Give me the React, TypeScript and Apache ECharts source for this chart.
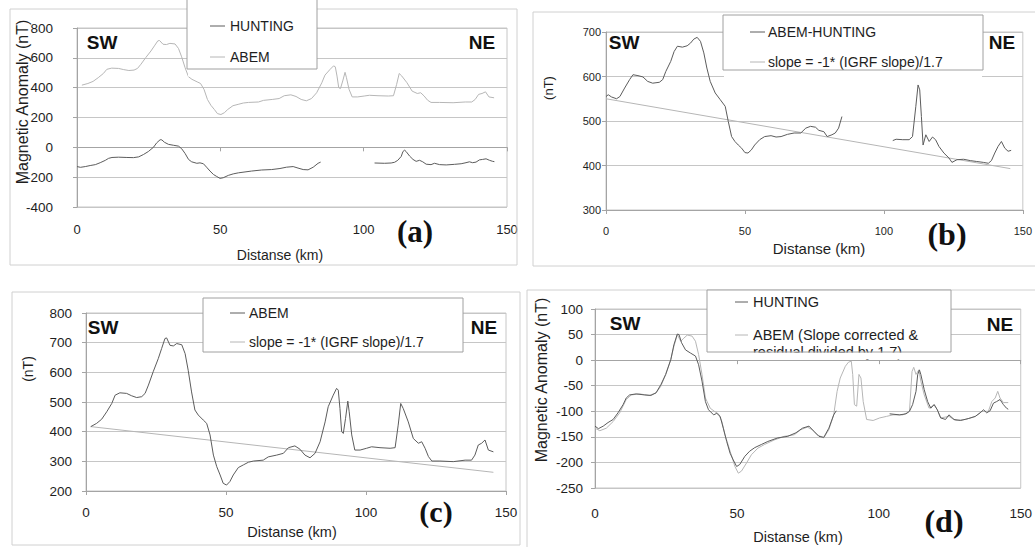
import React, { useEffect, useRef } from "react";
import * as echarts from "echarts";

// ---------- DATA (km, nT) ----------
const abem: [number, number][] = [
  [1.7, 417], [3.8, 428], [5.6, 442], [7.4, 467], [9.2, 495], [10.4, 523], [12.1, 531], [14.5, 529], [16.3, 521],
  [18.1, 515], [19.9, 518], [21.1, 529], [22.3, 557], [24, 602], [25.8, 646], [27, 680], [28.2, 714], [28.8, 716],
  [30, 691], [31.2, 689], [32.4, 697], [34.2, 693], [35.4, 663], [36.5, 607], [37.7, 534], [38.9, 473], [40.1, 456],
  [41.9, 439], [43.1, 428], [44.3, 389], [45.5, 321], [46.7, 282], [47.9, 254], [49, 226], [50.2, 220], [51.4, 232],
  [52.6, 254], [54.4, 279], [56.2, 288], [58, 297], [59.8, 301], [63.3, 304], [65.1, 315], [68.1, 321], [70.5, 327],
  [72.3, 346], [74.6, 352], [76.4, 341], [78.2, 321], [80, 312], [81.8, 327], [83.6, 366], [85.4, 433], [86.5, 484],
  [88.3, 523], [89.5, 546], [90.1, 540], [90.7, 478], [91.3, 400], [91.9, 394], [92.7, 445], [93.5, 503], [94, 467],
  [94.9, 389], [96, 338], [97.9, 338], [100.2, 344], [102, 349], [105, 346], [108.6, 344], [110.4, 346], [111.5, 422],
  [112.4, 495], [113.3, 478], [115.1, 433], [116.9, 377], [118.7, 361], [119.9, 366], [121.1, 344], [122.3, 316],
  [123.5, 301], [126.4, 301], [131.2, 299], [135.4, 304], [137.7, 304], [138.9, 321], [140.1, 355], [141.3, 361],
  [142.5, 372], [143.7, 338], [145.5, 332],
];

const huntingWest: [number, number][] = [
  [0, -129], [1.2, -134], [2.9, -129], [4.6, -122], [6.4, -116], [8.1, -103], [9.9, -87], [11, -74], [12.2, -68],
  [14.5, -66], [17.4, -68], [19.7, -69], [21.5, -64], [23.2, -48], [24.9, -28], [26.7, 1], [27.8, 30], [29, 51],
  [29.6, 50], [30.5, 34], [31.9, 20], [33.6, 14], [35.4, 8], [36.5, -9], [37.7, -41], [38.9, -81], [40, -97],
  [41.8, -107], [42.9, -104], [44.1, -110], [45.2, -133], [46.4, -159], [47.6, -182], [48.7, -195], [49.9, -208],
  [51, -204], [52.8, -188], [54.5, -178], [56.3, -171], [58.6, -165], [60.9, -159], [64.4, -152], [67.9, -149],
  [70.8, -142], [73.1, -133], [75.4, -129], [77.1, -139], [78.9, -149], [80.6, -151], [82.4, -133], [84.1, -107],
  [85, -99],
];
const huntingEast: [number, number][] = [
  [103.8, -105], [107.3, -107], [109.6, -105], [110.8, -100], [111.9, -87], [113.1, -61], [113.7, -28], [114.3, -19],
  [114.8, -28], [116, -58], [117.2, -81], [118.3, -94], [119.5, -87], [120.6, -97], [121.8, -113], [123.5, -116],
  [124.7, -107], [126.5, -116], [128.8, -118], [131.7, -114], [134, -110], [135.7, -103], [136.9, -97], [138, -103],
  [139.2, -99], [140.4, -84], [141.5, -81], [142.7, -77], [143.9, -87], [145, -94], [145.6, -96],
];

const diffWest: [number, number][] = [
  [0, 555], [0.8, 559], [2, 554], [3.8, 550], [5, 555], [6.7, 574], [8.5, 593], [9.7, 604], [11.5, 602], [13.3, 599],
  [15, 589], [16.8, 585], [19.2, 587], [20.4, 593], [21.5, 611], [23.3, 634], [24.5, 656], [25.7, 668], [27.5, 666],
  [29.2, 669], [30.4, 675], [31.6, 684], [32.8, 688], [34, 679], [35.2, 653], [36.3, 619], [37.5, 589], [39.3, 563],
  [41.1, 548], [42.9, 533], [44, 499], [45.2, 465], [46.4, 454], [47.6, 446], [48.8, 439], [50, 429], [51.1, 428],
  [52.3, 435], [53.5, 446], [55.3, 458], [57.1, 465], [59.4, 467], [61.2, 464], [63, 465], [65.3, 470], [67.7, 473],
  [70.1, 473], [71.9, 484], [73.6, 488], [75.4, 486], [76.6, 479], [78.4, 476], [79.6, 465], [81.3, 469], [82.5, 473],
  [83.7, 484], [84.9, 510],
];
const diffEast: [number, number][] = [
  [103.2, 456], [104.4, 459], [106.8, 458], [109.1, 458], [110.3, 465], [111.5, 533], [112.3, 581], [112.9, 570],
  [113.5, 510], [114.1, 446], [115.1, 469], [116.3, 454], [117.5, 464], [118.6, 458], [119.8, 443], [121.6, 428],
  [123.4, 417], [124.5, 407], [126.3, 413], [128.7, 414], [131.1, 411], [133.4, 409], [135.8, 407], [137.6, 405],
  [138.7, 411], [139.9, 428], [141.1, 443], [142.3, 454], [143.5, 439], [144.7, 432], [145.8, 434],
];

const slopeB: [number, number][] = [[0, 550], [145.5, 393]];
const slopeC: [number, number][] = [[1.7, 417], [145.5, 263]];

const abemResidual: [number, number][] = [
  [0, -133], [1.7, -138], [4, -133], [6.4, -120], [8.7, -103], [11, -77], [12.8, -68], [15.7, -66], [19.1, -69],
  [21.5, -64], [23.2, -51], [24.9, -28], [26.7, 1], [27.8, 27], [29, 50], [30.2, 37], [31.3, 43], [32.5, 49],
  [34.2, 47], [35.4, 37], [36.5, 11], [37.7, -28], [38.9, -74], [40.6, -94], [42.3, -101], [43.5, -105], [44.7, -120],
  [45.8, -146], [47.6, -178], [49.3, -208], [50.5, -221], [51.6, -217], [53.4, -201], [55.1, -185], [57.4, -172],
  [59.7, -165], [63.2, -156], [66.7, -149], [70.2, -146], [72.5, -136], [74.8, -131], [76.6, -136], [78.3, -146],
  [80.6, -152], [82.4, -136], [84.1, -107], [85.3, -61], [86.4, -35], [88.2, -12], [89.3, -4], [90.3, -2],
  [90.8, -28], [91.4, -87], [92.2, -90], [93, -28], [93.7, -35], [94.5, -81], [95.7, -116], [98, -118],
  [100.3, -113], [102.7, -110], [105, -107], [108.5, -107], [110.8, -100], [111.7, -22], [112.3, -14], [113.1, -28],
  [114.1, -19], [114.8, -41], [116, -68], [117.7, -94], [119.5, -87], [120.6, -97], [121.8, -113], [124.7, -110],
  [127, -118], [130.5, -116], [134, -110], [136.3, -100], [138.6, -100], [139.8, -81], [141, -74], [141.9, -61],
  [142.7, -74], [143.9, -83], [145.6, -83],
];

// axis ranges [min, max, interval]
const xRange = [0, 150, 50];
const yRangeA = [-400, 800, 200];
const yRangeB = [300, 700, 100];
const yRangeC = [200, 800, 100];
const yRangeD = [-250, 100, 50];

// ---------- STYLE ----------
const FONT = "'Liberation Sans', Arial, Helvetica, sans-serif";
const SERIF = "'Liberation Serif', 'Times New Roman', serif";
const DARK = "#5c5c5c";
const LIGHT = "#b6b6b6";
const GRIDC = "#c6c6c6";
const AXISC = "#a4a4a4";
const BOXC = "#d0d0d0";
const LEGC = "#a0a0a0";
const TXT = "#1e1e1e";

function App() {
  const ref = useRef<HTMLDivElement>(null);
  useEffect(() => {
    if (!ref.current) return;
    const chart = echarts.init(ref.current, undefined, { renderer: "svg" });

    const grids = [
      { left: 77, top: 28, width: 430, height: 179 },
      { left: 606, top: 32, width: 422, height: 178 },
      { left: 86, top: 313, width: 420, height: 178 },
      { left: 595, top: 309, width: 431, height: 179 },
    ].map((g) => ({ ...g, show: true, borderColor: GRIDC, borderWidth: 1, backgroundColor: "transparent" }));

    const xAxis = (i: number, fontSize: number, margin: number) => ({
      gridIndex: i, type: "value", min: xRange[0], max: xRange[1], interval: xRange[2],
      axisLine: { show: true, lineStyle: { color: AXISC } },
      axisTick: { show: true, length: 4, lineStyle: { color: AXISC } },
      axisLabel: { fontSize, margin, color: TXT, fontFamily: FONT },
      splitLine: { show: false },
    });
    const yAxis = (i: number, r: number[], fontSize: number, margin: number) => ({
      gridIndex: i, type: "value", min: r[0], max: r[1], interval: r[2],
      axisLine: { show: true, lineStyle: { color: AXISC } },
      axisTick: { show: true, length: 4, lineStyle: { color: AXISC } },
      axisLabel: { fontSize, margin, color: TXT, fontFamily: FONT },
      splitLine: { show: true, lineStyle: { color: GRIDC, width: 1 } },
    });
    const line = (name: string, data: [number, number][], i: number, color: string, z = 3) => ({
      name, type: "line", data, xAxisIndex: i, yAxisIndex: i, symbol: "none", showSymbol: false,
      lineStyle: { color, width: 1 }, itemStyle: { color }, z, silent: true,
    });

    const txt = (text: string, x: number, y: number, o: any = {}) => ({
      type: "text", x, y, z: 60, rotation: o.rotation || 0, silent: true,
      style: {
        text, fontSize: o.fontSize || 14, fontFamily: o.fontFamily || FONT, fontWeight: o.fontWeight || "normal",
        fill: o.fill || TXT, textAlign: o.align || "center", textVerticalAlign: "middle",
      },
    });
    const box = (x: number, y: number, w: number, h: number) => ({
      type: "rect", z: 1, silent: true, shape: { x, y, width: w, height: h },
      style: { fill: "none", stroke: BOXC, lineWidth: 1 },
    });
    const legend = (
      x: number, y: number, w: number, h: number,
      rows: { label: string; color: string | null; ly: number }[],
      sx1: number, sx2: number, tx: number, fs: number
    ) => {
      const els: any[] = [
        { type: "rect", z: 50, silent: true, shape: { x, y, width: w, height: h }, style: { fill: "#fff", stroke: "none" } },
      ];
      rows.forEach((r) => {
        if (r.color)
          els.push({ type: "line", z: 61, silent: true, shape: { x1: sx1, y1: r.ly, x2: sx2, y2: r.ly }, style: { stroke: r.color, lineWidth: 1 } });
        els.push(txt(r.label, tx, r.ly, { fontSize: fs, align: "left" }));
      });
      els.push({ type: "rect", z: 62, silent: true, shape: { x: x + 1, y: y + h + 0.5, width: w - 2, height: 7 }, style: { fill: "#fff", stroke: "none" } });
      els.push({ type: "rect", z: 63, silent: true, shape: { x, y, width: w, height: h }, style: { fill: "none", stroke: LEGC, lineWidth: 1 } });
      return els;
    };

    const graphic: any[] = [
      box(10, 9, 507, 256),
      box(533, 12, 520, 254),
      box(12, 292, 508, 253),
      box(527, 290, 520, 270),
      // legends
      ...legend(187, -1, 130, 70, [
        { label: "HUNTING", color: DARK, ly: 26 },
        { label: "ABEM", color: LIGHT, ly: 57 },
      ], 210, 225, 230, 14),
      ...legend(723, 15, 260, 55, [
        { label: "ABEM-HUNTING", color: DARK, ly: 32 },
        { label: "slope = -1* (IGRF slope)/1.7", color: LIGHT, ly: 62 },
      ], 750, 765, 768, 14),
      ...legend(203, 298, 260, 54, [
        { label: "ABEM", color: DARK, ly: 313 },
        { label: "slope = -1* (IGRF slope)/1.7", color: LIGHT, ly: 342 },
      ], 230, 245, 249, 14),
      ...legend(707, 290, 244, 62, [
        { label: "HUNTING", color: DARK, ly: 302 },
        { label: "ABEM (Slope corrected &", color: LIGHT, ly: 335 },
        { label: "residual divided by 1.7)", color: null, ly: 352 },
      ], 735, 748, 753, 14.5),
      // axis titles
      txt("Distanse (km)", 280, 255, { fontSize: 14 }),
      txt("Distanse (km)", 819, 248, { fontSize: 15 }),
      txt("Distanse (km)", 292, 532, { fontSize: 14.5 }),
      txt("Distanse (km)", 798, 537, { fontSize: 14.5 }),
      txt("Magnetic Anomaly (nT)", 22, 102, { fontSize: 16, rotation: Math.PI / 2 }),
      txt("(nT)", 548, 88, { fontSize: 13, rotation: Math.PI / 2 }),
      txt("(nT)", 28, 369, { fontSize: 14, rotation: Math.PI / 2 }),
      txt("Magnetic Anomaly (nT)", 541, 380, { fontSize: 16, rotation: Math.PI / 2 }),
      // direction labels
      txt("SW", 102, 42, { fontSize: 19, fontWeight: "bold", fill: "#111" }),
      txt("NE", 482, 42, { fontSize: 19, fontWeight: "bold", fill: "#111" }),
      txt("SW", 624, 42, { fontSize: 19, fontWeight: "bold", fill: "#111" }),
      txt("NE", 1002, 42, { fontSize: 19, fontWeight: "bold", fill: "#111" }),
      txt("SW", 103, 327, { fontSize: 19, fontWeight: "bold", fill: "#111" }),
      txt("NE", 484, 327, { fontSize: 19, fontWeight: "bold", fill: "#111" }),
      txt("SW", 625, 323, { fontSize: 19, fontWeight: "bold", fill: "#111" }),
      txt("NE", 1000, 324, { fontSize: 19, fontWeight: "bold", fill: "#111" }),
      // panel letters
      txt("(a)", 415, 231, { fontSize: 31, fontWeight: "bold", fontFamily: SERIF, fill: "#111" }),
      txt("(b)", 947, 234, { fontSize: 32, fontWeight: "bold", fontFamily: SERIF, fill: "#111" }),
      txt("(c)", 436, 511, { fontSize: 30, fontWeight: "bold", fontFamily: SERIF, fill: "#111" }),
      txt("(d)", 944, 521, { fontSize: 32, fontWeight: "bold", fontFamily: SERIF, fill: "#111" }),
    ];

    chart.setOption({
      animation: false,
      backgroundColor: "#ffffff",
      textStyle: { fontFamily: FONT },
      grid: grids,
      xAxis: [xAxis(0, 13, 16), xAxis(1, 11, 15), xAxis(2, 13.5, 14), xAxis(3, 13.5, 18)],
      yAxis: [yAxis(0, yRangeA, 13.5, 24), yAxis(1, yRangeB, 11, 5), yAxis(2, yRangeC, 13.5, 14), yAxis(3, yRangeD, 13.5, 12)],
      series: [
        line("ABEM", abem, 0, LIGHT, 2),
        line("HUNTING", huntingWest, 0, DARK),
        line("HUNTING", huntingEast, 0, DARK),
        line("slope = -1* (IGRF slope)/1.7", slopeB, 1, LIGHT, 2),
        line("ABEM-HUNTING", diffWest, 1, DARK),
        line("ABEM-HUNTING", diffEast, 1, DARK),
        line("slope = -1* (IGRF slope)/1.7", slopeC, 2, LIGHT, 2),
        line("ABEM", abem, 2, DARK),
        line("ABEM (Slope corrected & residual divided by 1.7)", abemResidual, 3, LIGHT, 2),
        line("HUNTING", huntingWest, 3, DARK),
        line("HUNTING", huntingEast, 3, DARK),
      ],
      graphic,
    });
    return () => chart.dispose();
  }, []);
  return (
    <div
      ref={ref}
      style={{ position: "fixed", left: 0, top: 0, width: 1035, height: 547, background: "#fff" }}
    />
  );
}

export default App;
